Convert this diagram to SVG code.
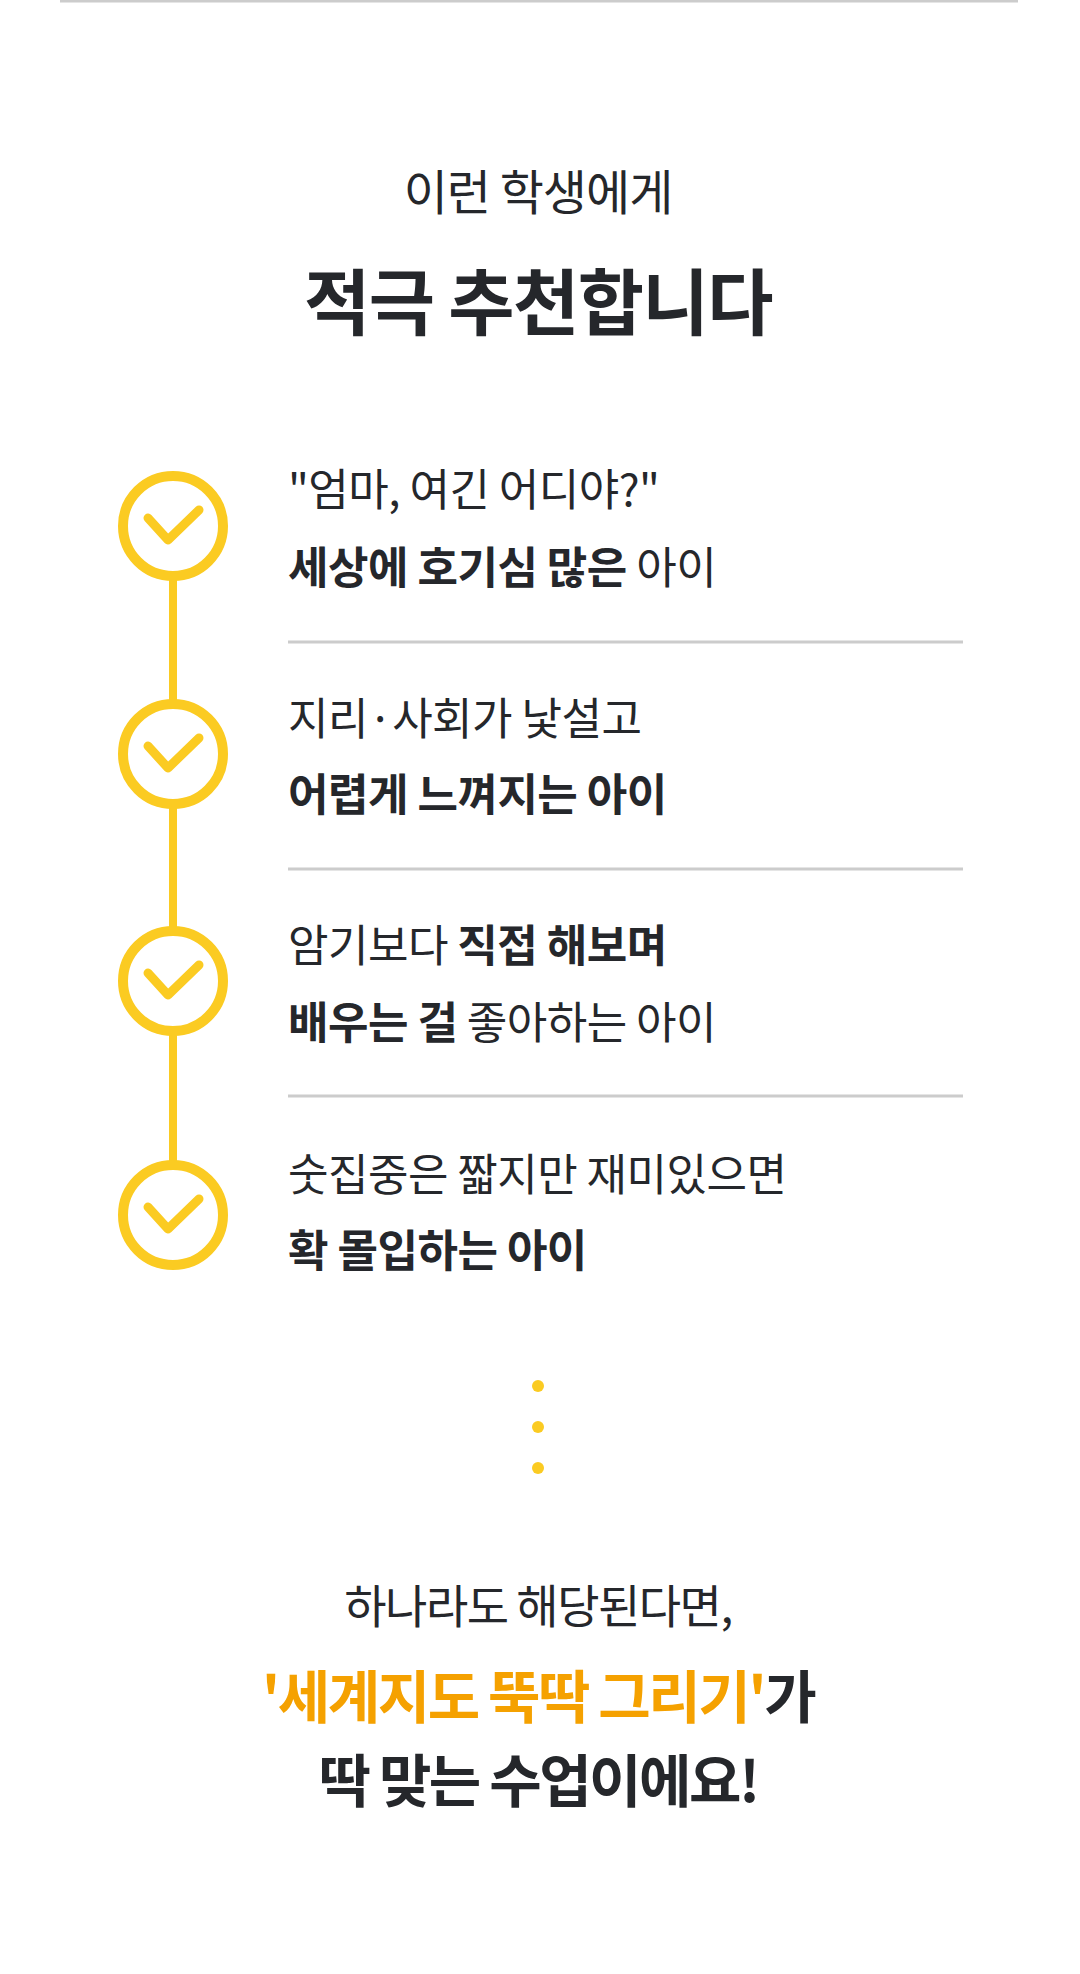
<svg xmlns="http://www.w3.org/2000/svg" width="1080" height="1974" viewBox="0 0 1080 1974">
<style>
text{font-family:"Noto Sans CJK KR","Noto Sans",sans-serif;fill:#25272b}
.c{text-anchor:middle}
.item{font-size:44px;letter-spacing:-0.5px}
.b{font-weight:700}
.sep{stroke:#cccccc;stroke-width:3}
.ring{fill:#fff;stroke:#FBCB22;stroke-width:10}
.chk{fill:none;stroke:#FBCB22;stroke-width:9;stroke-linecap:round;stroke-linejoin:round}
.dot{fill:#FBCB22}
</style>
<rect width="1080" height="1974" fill="#fff"/>
<line x1="60" y1="1" x2="1018" y2="1" class="sep"/>
<text class="c" x="538" y="210" font-size="48" letter-spacing="-1">이런 학생에게</text>
<text class="c b" x="538" y="329" font-size="72" letter-spacing="-1.5">적극 추천합니다</text>
<g id="connectors"><line x1="173" y1="526" x2="173" y2="1215" stroke="#FBCB22" stroke-width="8"/></g>
<g id="item1">
<circle class="ring" cx="173" cy="526" r="50"/><polyline class="chk" points="148,518 168,540 199,510"/>
<text class="item" x="288" y="506">"엄마, 여긴 어디야?"</text>
<text class="item" x="288" y="584"><tspan class="b">세상에 호기심 많은</tspan> 아이</text>
</g>
<line class="sep" x1="288" y1="642" x2="963" y2="642"/>
<g id="item2">
<circle class="ring" cx="173" cy="754" r="50"/><polyline class="chk" points="148,746 168,768 199,738"/>
<text class="item" x="288" y="735">지리·사회가 낯설고</text>
<text class="item b" x="288" y="811">어렵게 느껴지는 아이</text>
</g>
<line class="sep" x1="288" y1="869" x2="963" y2="869"/>
<g id="item3">
<circle class="ring" cx="173" cy="981" r="50"/><polyline class="chk" points="148,973 168,995 199,965"/>
<text class="item" x="288" y="962">암기보다 <tspan class="b">직접 해보며</tspan></text>
<text class="item" x="288" y="1039"><tspan class="b">배우는 걸</tspan> 좋아하는 아이</text>
</g>
<line class="sep" x1="288" y1="1096" x2="963" y2="1096"/>
<g id="item4">
<circle class="ring" cx="173" cy="1215" r="50"/><polyline class="chk" points="148,1207 168,1229 199,1199"/>
<text class="item" x="288" y="1191">숫집중은 짧지만 재미있으면</text>
<text class="item b" x="288" y="1267">확 몰입하는 아이</text>
</g>
<circle class="dot" cx="538" cy="1386" r="6"/>
<circle class="dot" cx="538" cy="1427" r="6"/>
<circle class="dot" cx="538" cy="1468" r="6"/>
<text class="c" x="538" y="1623" font-size="46" letter-spacing="-1.5">하나라도 해당된다면,</text>
<text class="c b" x="538" y="1718" font-size="57" letter-spacing="-2.5"><tspan style="fill:#F5A100">'세계지도 뚝딱 그리기'</tspan>가</text>
<text class="c b" x="538" y="1802" font-size="57" letter-spacing="-2.5">딱 맞는 수업이에요!</text>
</svg>
